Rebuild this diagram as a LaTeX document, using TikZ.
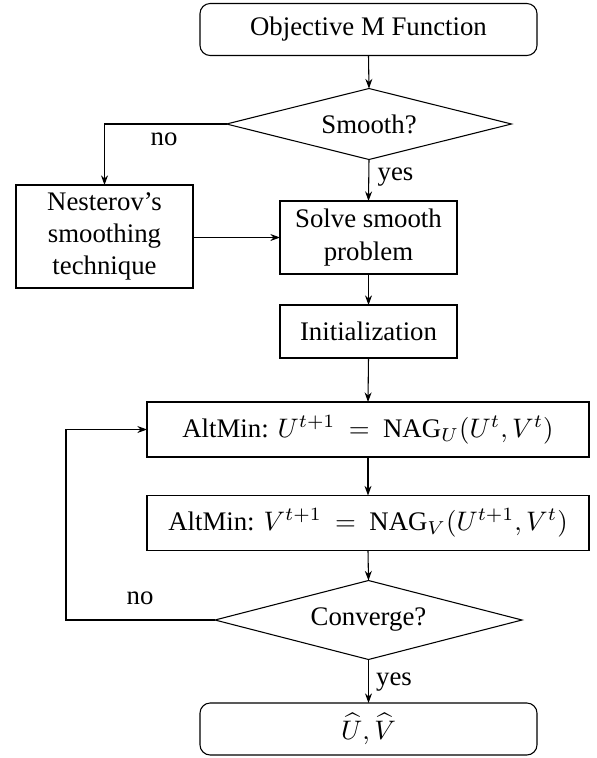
\documentclass[tikz,border=0pt]{standalone}
\usepackage{fontspec}
\setmainfont{Liberation Serif}
\usetikzlibrary{shapes.geometric,arrows.meta}
\begin{document}
\begin{tikzpicture}[x=0.3731pt,y=-0.3731pt,
  font=\fontsize{10pt}{12pt}\selectfont,
  every node/.style={inner sep=0pt, outer sep=0pt},
  base/.style={draw, line width=0.4pt, align=center},
  termbox/.style={base, rounded corners=3.8pt, minimum width=337*0.3731pt, minimum height=52*0.3731pt},
  procbox/.style={base, minimum width=177*0.3731pt},
  widebox/.style={base, minimum width=442*0.3731pt, minimum height=55*0.3731pt},
  decision/.style={base, diamond, aspect=3.9},
  arr/.style={draw, line width=0.4pt, -{Stealth[length=3.6pt,width=2.6pt]}},
  lbl/.style={inner sep=0pt}]
\useasboundingbox (0,0) rectangle (597,758);
\node[termbox] (start) at (368.5,29.5) {Objective M Function};
\node[decision, minimum width=285*0.3731pt, minimum height=71*0.3731pt] (smooth) at (369,124) {Smooth?};
\node[procbox, minimum height=103*0.3731pt] (nest) at (104.5,236.5) {Nesterov's\\smoothing\\technique};
\node[procbox, minimum height=73*0.3731pt] (solve) at (368.5,237.5) {Solve smooth\\problem};
\node[procbox, minimum height=53*0.3731pt] (init) at (368.5,331.5) {Initialization};
\node[widebox] (altU) at (368,429.5) {AltMin: $U^{t+1}$\enspace$=$\enspace NAG$_U(U^t,V^t)$};
\node[widebox] (altV) at (368,523) {AltMin: $V^{t+1}$\enspace$=$\enspace NAG$_V(U^{t+1},V^t)$};
\node[decision, minimum width=307*0.3731pt, minimum height=79*0.3731pt] (conv) at (368.5,620) {Converge?};
\node[termbox] (final) at (368.5,729) {$\widehat{U},\widehat{V}$};
\coordinate (loop) at (66,620);
\draw[arr] (start.south) -- (smooth.north);
\draw[arr] (smooth.west) -| (nest.north);
\node[lbl] (no1) at (164,139) {no};
\draw[arr] (smooth.south) -- (solve.north);
\node[lbl] (yes1) at (395.5,177) {yes};
\draw[arr] (nest.east |- solve.west) -- (solve.west);
\draw[arr] (solve.south) -- (init.north);
\draw[arr] (init.south) -- (altU.north);
\draw[arr] (altU.south) -- (altV.north);
\draw[arr] (altV.south) -- (conv.north);
\draw[arr] (conv.west) -- (loop) |- (altU.west);
\node[lbl] (no2) at (140,598) {no};
\draw[arr] (conv.south) -- (final.north);
\node[lbl] (yes2) at (394,682) {yes};
\end{tikzpicture}
\end{document}
